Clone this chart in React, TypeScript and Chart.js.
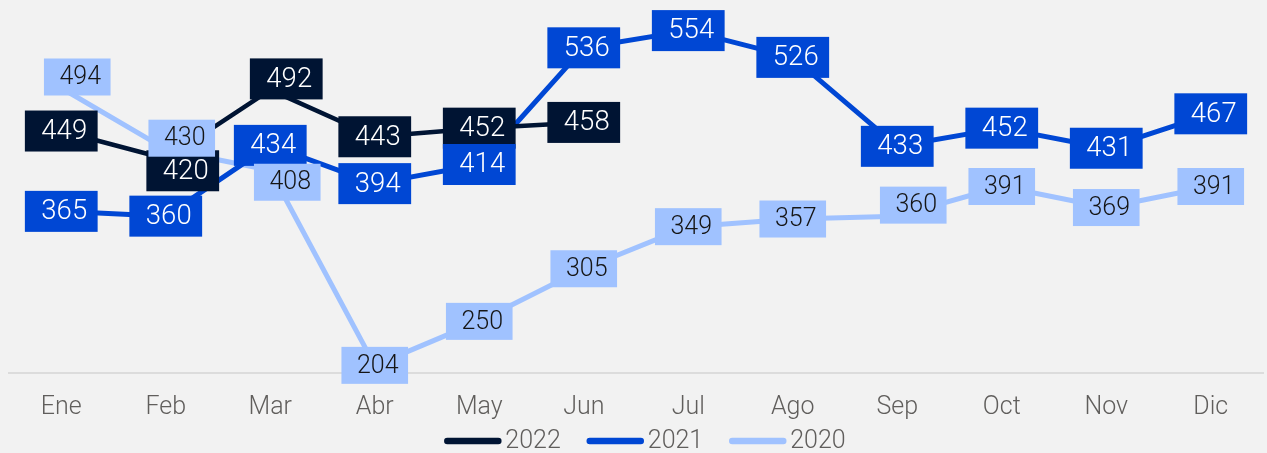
import React, { useEffect, useRef } from "react";
import { Chart, registerables } from "chart.js";

Chart.register(...registerables);

const months = ["Ene", "Feb", "Mar", "Abr", "May", "Jun", "Jul", "Ago", "Sep", "Oct", "Nov", "Dic"];
const seriesNames = ["2022", "2021", "2020"];
const values2022 = [449, 420, 492, 443, 452, 458, null, null, null, null, null, null];
const values2021 = [365, 360, 434, 394, 414, 536, 554, 526, 433, 452, 431, 467];
const values2020 = [494, 430, 408, 204, 250, 305, 349, 357, 360, 391, 369, 391];
const seriesColors = ["#001433", "#0047D4", "#A0C2FF"];
const labelTextColors = ["#FFFFFF", "#FFFFFF", "#151515"];
const yMin = 196;
const yMax = 586;

// Label placement exceptions (collision avoidance), by series and month
const labelPlacement: Record<string, Record<string, "up" | "down">> = {
  "2022": { Feb: "down", Mar: "up" },
  "2020": { Ene: "up", Feb: "up", Mar: "down", Sep: "up" },
};

const FONT = "Roboto";
const AXIS_TEXT = "#605E5C";

const boxLabels = {
  id: "boxLabels",
  afterDatasetsDraw(chart: any) {
    const ctx = chart.ctx;
    chart.data.datasets.forEach((ds: any, di: number) => {
      const meta = chart.getDatasetMeta(di);
      const small = di === 2;
      const fs = small ? 25 : 27.5;
      const padX = small ? 12.5 : 13.5;
      const h = small ? 37 : 41;
      const placements = labelPlacement[ds.label] || {};
      ctx.save();
      ctx.font = `300 ${fs}px ${FONT}`;
      ctx.textAlign = "center";
      ctx.textBaseline = "middle";
      meta.data.forEach((pt: any, i: number) => {
        const v = ds.data[i];
        if (v == null) return;
        const p = placements[chart.data.labels[i]];
        let cx = pt.x;
        let cy = pt.y;
        if (p === "up") {
          cx += 16;
          cy -= 11;
        } else if (p === "down") {
          cx += 17;
          cy += 12;
        }
        const text = String(v);
        const w = ctx.measureText(text).width + 2 * padX;
        ctx.fillStyle = ds.borderColor;
        ctx.fillRect(cx - w / 2, cy - h / 2, w, h);
        ctx.fillStyle = labelTextColors[di];
        ctx.fillText(text, cx + 3, cy + 1);
      });
      ctx.restore();
    });
  },
};

const bottomLegend = {
  id: "bottomLegend",
  afterDraw(chart: any) {
    const ctx = chart.ctx;
    const swatch = 57;
    const gap = 4;
    const itemGap = 26;
    ctx.save();
    ctx.font = `300 25px ${FONT}`;
    ctx.textBaseline = "middle";
    ctx.textAlign = "left";
    const widths = chart.data.datasets.map((ds: any) => swatch + gap + ctx.measureText(ds.label).width);
    const total = widths.reduce((a: number, b: number) => a + b, 0) + itemGap * (widths.length - 1);
    const area = chart.chartArea;
    let x = (area.left + area.right) / 2 + 9 - total / 2;
    const y = chart.height - 12;
    chart.data.datasets.forEach((ds: any, i: number) => {
      ctx.strokeStyle = ds.borderColor;
      ctx.lineWidth = 6.5;
      ctx.lineCap = "round";
      ctx.beginPath();
      ctx.moveTo(x + 3, y);
      ctx.lineTo(x + swatch - 3, y);
      ctx.stroke();
      ctx.fillStyle = AXIS_TEXT;
      ctx.fillText(ds.label, x + swatch + gap, y + 1);
      x += widths[i] + itemGap;
    });
    ctx.restore();
  },
};

export default function App() {
  const ref = useRef<HTMLCanvasElement | null>(null);

  useEffect(() => {
    if (!ref.current) return;
    const series = [values2022, values2021, values2020];
    const chart = new Chart(ref.current, {
      type: "line",
      data: {
        labels: months,
        datasets: series.map((vals, i) => ({
          label: seriesNames[i],
          data: vals,
          borderColor: seriesColors[i],
          backgroundColor: seriesColors[i],
          borderWidth: i === 0 ? 4.5 : 5,
          pointRadius: 0,
          pointHoverRadius: 0,
          tension: 0,
          spanGaps: false,
          borderJoinStyle: "round" as const,
        })),
      },
      options: {
        animation: false,
        responsive: false,
        layout: { padding: { left: 9, right: 4, top: 0, bottom: 0 } },
        plugins: {
          legend: { display: false },
          tooltip: { enabled: false },
        },
        scales: {
          x: {
            offset: true,
            grid: { display: false, drawTicks: false },
            border: { display: true, color: "#DCDCDC", width: 2 },
            ticks: {
              color: AXIS_TEXT,
              font: { family: FONT, size: 25, weight: 300 },
              padding: 20,
              maxRotation: 0,
              autoSkip: false,
            },
            afterFit: (scale: any) => {
              scale.height = 80;
            },
          },
          y: { display: false, min: yMin, max: yMax },
        },
      },
      plugins: [boxLabels, bottomLegend],
    });
    return () => chart.destroy();
  }, []);

  return (
    <div style={{ position: "fixed", left: 0, top: 0, width: 1267, height: 453, background: "#F2F2F2" }}>
      <canvas ref={ref} width={1267} height={453} style={{ display: "block" }} />
    </div>
  );
}
